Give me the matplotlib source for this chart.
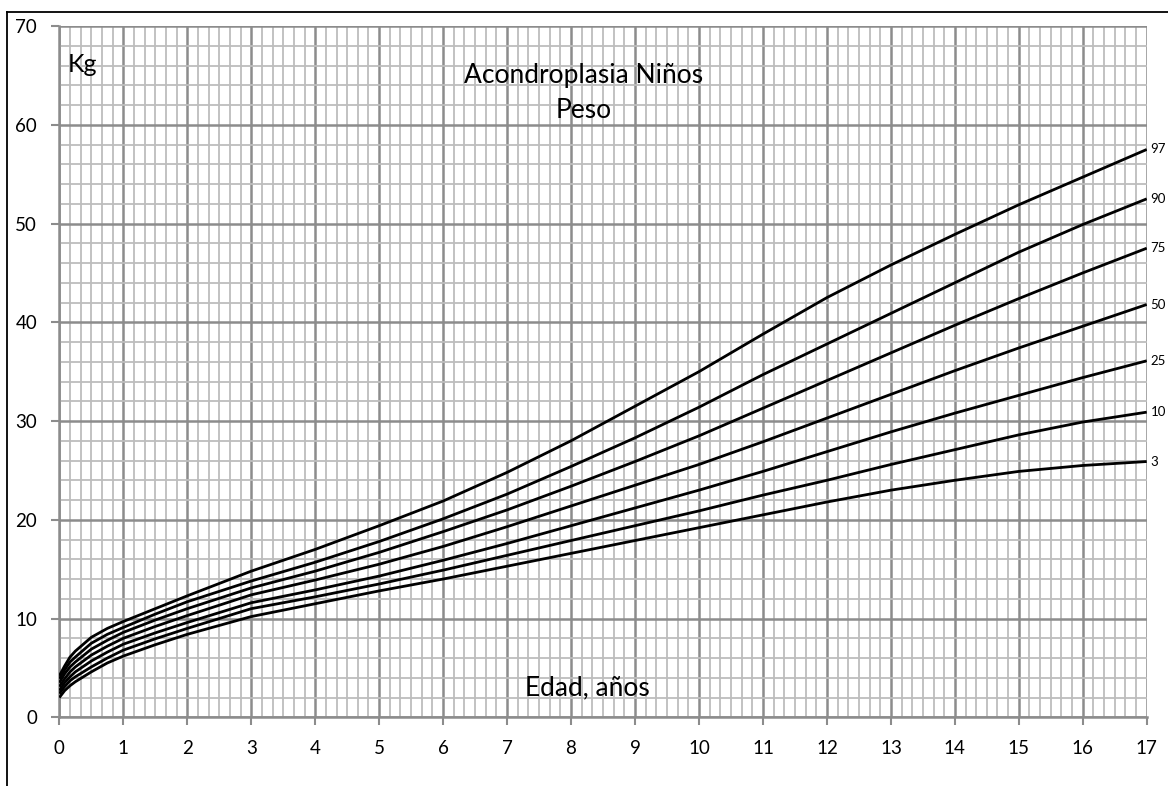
import numpy as np
import matplotlib.pyplot as plt
from matplotlib.lines import Line2D

plt.rcParams['font.family'] = ['Lato', 'DejaVu Sans']

# edad en años
ages = [0, 0.083, 0.167, 0.25, 0.5, 0.75, 1, 1.5, 2, 3, 4, 5, 6, 7, 8, 9,
        10, 11, 12, 13, 14, 15, 16, 17]

# percentiles de peso (kg)
p3 = [2.0, 2.7, 3.2, 3.6, 4.6, 5.5, 6.2, 7.35, 8.4, 10.2, 11.5, 12.8, 14.0,
      15.3, 16.6, 17.9, 19.2, 20.5, 21.8, 23.0, 24.0, 24.9, 25.5, 25.9]
p10 = [2.4, 3.1, 3.7, 4.1, 5.1, 6.0, 6.8, 7.95, 9.0, 11.0, 12.2, 13.5, 14.9,
       16.4, 17.9, 19.4, 20.9, 22.5, 24.0, 25.6, 27.1, 28.6, 29.9, 30.9]
p25 = [2.7, 3.5, 4.1, 4.6, 5.7, 6.6, 7.4, 8.55, 9.6, 11.6, 12.9, 14.3, 15.9,
       17.6, 19.4, 21.2, 23.0, 24.9, 26.9, 28.9, 30.8, 32.6, 34.4, 36.1]
p50 = [3.1, 3.9, 4.6, 5.1, 6.3, 7.2, 8.0, 9.2, 10.3, 12.4, 13.9, 15.5, 17.3,
       19.3, 21.4, 23.5, 25.6, 27.9, 30.3, 32.7, 35.1, 37.4, 39.6, 41.8]
p75 = [3.5, 4.4, 5.1, 5.6, 6.9, 7.8, 8.6, 9.85, 11.0, 13.1, 14.8, 16.7, 18.8,
       21.0, 23.4, 25.9, 28.5, 31.3, 34.1, 36.9, 39.7, 42.4, 45.0, 47.5]
p90 = [3.9, 4.8, 5.6, 6.1, 7.5, 8.4, 9.1, 10.45, 11.7, 13.8, 15.7, 17.8, 20.1,
       22.6, 25.4, 28.3, 31.4, 34.7, 37.8, 40.9, 44.0, 47.1, 49.9, 52.5]
p97 = [4.2, 5.2, 6.1, 6.7, 8.1, 9.0, 9.7, 11.0, 12.3, 14.8, 17.0, 19.4, 21.9,
       24.8, 28.0, 31.5, 35.0, 38.8, 42.5, 45.8, 48.9, 51.9, 54.7, 57.5]

curves = [p3, p10, p25, p50, p75, p90, p97]
names = ['3', '10', '25', '50', '75', '90', '97']

fig = plt.figure(figsize=(11.68, 7.86), dpi=100)
ax = fig.add_axes([0.0508, 0.0874, 0.9310, 0.8795])

for vals, nm in zip(curves, names):
    ax.plot(ages, vals, color='black', lw=2.0, solid_capstyle='butt', zorder=3)
    ax.text(ages[-1] + 0.06, vals[-1], nm, fontsize=9.5, va='center', ha='left')

ax.set_xlim(0, 17)
ax.set_ylim(0, 70)
ax.set_xticks(range(0, 18))
ax.set_yticks(range(0, 71, 10))
ax.set_xticks(np.arange(0, 17.01, 1 / 6), minor=True)
ax.set_yticks(range(0, 71, 2), minor=True)
ax.grid(which='major', color='#8c8c8c', lw=1.8, zorder=1)
ax.grid(which='minor', color='#bdbdbd', lw=1.3, zorder=0)
ax.tick_params(which='major', direction='out', length=6, width=1.5,
               color='#8c8c8c', labelsize=13.5, pad=10)
ax.tick_params(which='minor', length=0)
for s in ['top', 'right']:
    ax.spines[s].set_visible(False)
for s in ['left', 'bottom']:
    ax.spines[s].set_color('#8c8c8c')
    ax.spines[s].set_linewidth(1.8)

ax.text(0.13, 65.3, 'Kg', fontsize=18, ha='left', va='baseline')
ax.text(8.19, 64.2, 'Acondroplasia Niños', fontsize=19, ha='center', va='baseline')
ax.text(8.19, 60.7, 'Peso', fontsize=19, ha='center', va='baseline')
ax.text(8.25, 2.2, 'Edad, años', fontsize=19, ha='center', va='baseline')

# marco exterior
fig.add_artist(Line2D([7 / 1168, 7 / 1168], [0, 1 - 12 / 786], color='black', lw=1.3))
fig.add_artist(Line2D([7 / 1168, 1], [1 - 12 / 786, 1 - 12 / 786], color='black', lw=1.3))

fig.savefig('out.png', dpi=100)
